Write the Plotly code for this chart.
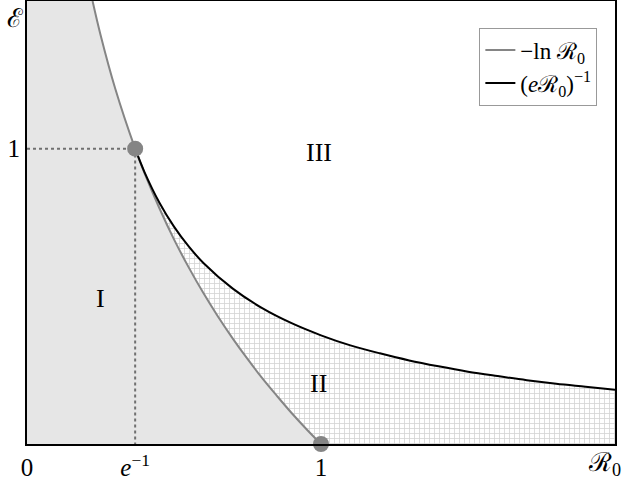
import plotly.graph_objects as go

# points
r0_ln = [0.223, 0.25, 0.30, 0.3679, 0.40, 0.45, 0.50, 0.55, 0.60, 0.65, 0.70, 0.75, 0.80, 0.85, 0.90, 0.95, 1.00]
e_ln = [1.50, 1.386, 1.204, 1.00, 0.916, 0.799, 0.693, 0.598, 0.511, 0.431, 0.357, 0.288, 0.223, 0.163, 0.105, 0.051, 0.0]

r0_inv = [0.3679, 0.40, 0.45, 0.50, 0.55, 0.60, 0.70, 0.80, 0.90, 1.00, 1.10, 1.20, 1.30, 1.40, 1.50, 1.60, 1.70, 1.80, 1.90, 2.00]
e_inv = [1.00, 0.920, 0.818, 0.736, 0.669, 0.613, 0.526, 0.460, 0.409, 0.368, 0.334, 0.307, 0.283, 0.263, 0.245, 0.230, 0.216, 0.204, 0.194, 0.184]

x_ticks = [0, 0.3679, 1]
x_tick_text = ["0", "<i>e</i><sup>\u22121</sup>", "1"]
y_ticks = [1]
y_tick_text = ["1"]

regions = ["I", "II", "III"]
region_x = [0.249, 0.993, 0.993]
region_y = [0.493, 0.206, 0.986]

SERIF = "Liberation Serif, Times New Roman, serif"
GRAY = "#858585"

fig = go.Figure()

# region I: under -ln R0
fig.add_trace(go.Scatter(
    x=[0, 0] + r0_ln + [0],
    y=[0, 1.5] + e_ln + [0],
    fill="toself", fillcolor="#e6e6e6",
    line=dict(width=0), mode="lines",
    showlegend=False, hoverinfo="skip"
))

# region II: hatched, between the two curves
lower_x = r0_ln[3:][::-1]
lower_y = e_ln[3:][::-1]
fig.add_trace(go.Scatter(
    x=r0_inv + [2.0, 1.0] + lower_x[1:],
    y=e_inv + [0.0, 0.0] + lower_y[1:],
    fill="toself", fillcolor="rgba(0,0,0,0)",
    fillpattern=dict(shape="+", size=5, solidity=0.3, fgcolor="#a8a8a8", bgcolor="white"),
    line=dict(width=0), mode="lines",
    showlegend=False, hoverinfo="skip"
))

# dotted guides to (e^-1, 1)
fig.add_trace(go.Scatter(
    x=[0, 0.3679, 0.3679], y=[1, 1, 0],
    mode="lines", line=dict(color="#707070", width=2, dash="dot"),
    showlegend=False, hoverinfo="skip"
))

fig.add_trace(go.Scatter(
    x=r0_ln, y=e_ln, mode="lines", line_shape="spline",
    line=dict(color=GRAY, width=2),
    name="\u2212ln \u211b<sub>0</sub>"
))
fig.add_trace(go.Scatter(
    x=r0_inv, y=e_inv, mode="lines", line_shape="spline",
    line=dict(color="black", width=2),
    name="(<i>e</i>\u211b<sub>0</sub>)<sup>\u22121</sup>"
))

fig.add_trace(go.Scatter(
    x=[0.3679, 1.0], y=[1.0, 0.0], mode="markers",
    marker=dict(color=GRAY, size=16),
    showlegend=False, cliponaxis=False, hoverinfo="skip"
))

for label, lx, ly in zip(regions, region_x, region_y):
    fig.add_annotation(x=lx, y=ly, text=label, showarrow=False,
                       font=dict(family=SERIF, size=26, color="black"))

fig.add_annotation(x=0, xref="paper", xanchor="right", xshift=-2, y=1.44, yref="y",
                   text="\u2130", showarrow=False, font=dict(family=SERIF, size=26, color="black"))
fig.add_annotation(x=1, xref="paper", xanchor="right", xshift=8, y=0, yref="y", yanchor="top", yshift=-2,
                   text="\u211b<sub>0</sub>", showarrow=False, font=dict(family=SERIF, size=26, color="black"))

fig.update_layout(
    width=623, height=484,
    margin=dict(l=27, r=8, t=1, b=40),
    plot_bgcolor="white", paper_bgcolor="white",
    font=dict(family=SERIF, size=24, color="black"),
    xaxis=dict(range=[0, 2], tickvals=x_ticks, ticktext=x_tick_text, ticks="",
               showgrid=False, zeroline=False, showline=True, mirror=True, automargin=False,
               linecolor="black", linewidth=2, tickfont=dict(size=25)),
    yaxis=dict(range=[0, 1.5], tickvals=y_ticks, ticktext=y_tick_text, ticks="",
               showgrid=False, zeroline=False, showline=True, mirror=True, automargin=False,
               linecolor="black", linewidth=2, tickfont=dict(size=25)),
    legend=dict(x=0.97, xanchor="right", y=0.94, yanchor="top",
                bordercolor="#999999", borderwidth=1, bgcolor="white",
                font=dict(family=SERIF, size=23), itemwidth=30, tracegroupgap=0),
    showlegend=True
)

# drop the page's default body margin so the figure sits at the window corner
fig.write_html("out.html", config={"displayModeBar": False},
               post_script="document.body.style.margin='0';")
